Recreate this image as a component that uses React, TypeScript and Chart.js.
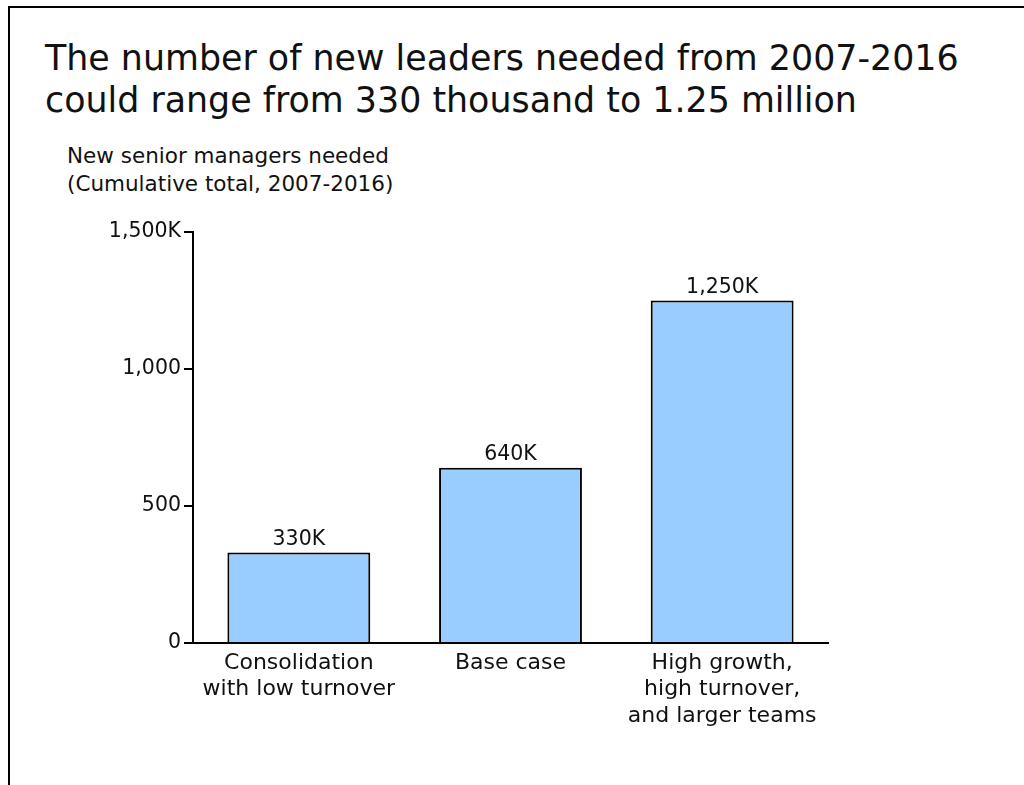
import React, { useEffect, useRef } from "react";
import { Chart, registerables } from "chart.js";

Chart.register(...registerables);

const titleLines = [
  "The number of new leaders needed from 2007-2016",
  "could range from 330 thousand to 1.25 million",
];
const subtitleLines = ["New senior managers needed", "(Cumulative total, 2007-2016)"];
const categories: string[][] = [
  ["Consolidation", "with low turnover"],
  ["Base case"],
  ["High growth,", "high turnover,", "and larger teams"],
];
const values = [330, 640, 1250];
const yTickValues = [0, 500, 1000, 1500];
const yTickLabels = ["0", "500", "1,000", "1,500K"];

const FONT = "'DejaVu Sans', Verdana, sans-serif";

const valueLabelPlugin = {
  id: "valueLabels",
  afterDatasetsDraw(chart: any) {
    const ctx = chart.ctx;
    const meta = chart.getDatasetMeta(0);
    ctx.save();
    ctx.font = `20.5px ${FONT}`;
    ctx.fillStyle = "#111";
    ctx.textAlign = "center";
    ctx.textBaseline = "alphabetic";
    meta.data.forEach((bar: any, i: number) => {
      const v = values[i];
      ctx.fillText(v.toLocaleString("en-US") + "K", bar.x, bar.y - 8);
    });
    ctx.restore();
  },
};

export default function App() {
  const ref = useRef<HTMLCanvasElement | null>(null);
  useEffect(() => {
    if (!ref.current) return;
    const chart = new Chart(ref.current, {
      type: "bar",
      data: {
        labels: categories,
        datasets: [
          {
            data: values,
            backgroundColor: "#99ccff",
            borderColor: "#000",
            borderWidth: 2,
            barPercentage: 0.675,
            categoryPercentage: 1,
          },
        ],
      },
      options: {
        responsive: false,
        animation: false,
        layout: { padding: { left: 0, right: 196, top: 232, bottom: 0 } },
        plugins: {
          legend: { display: false },
          tooltip: { enabled: false },
          title: { display: false },
        },
        scales: {
          x: {
            grid: { display: false, drawTicks: false },
            border: { display: true, color: "#000", width: 2 },
            ticks: {
              color: "#111",
              padding: 7,
              maxRotation: 0,
              autoSkip: false,
              font: { family: FONT, size: 22, lineHeight: 1.2 },
            },
            afterFit: (scale: any) => {
              scale.height = 142;
            },
          },
          y: {
            min: 0,
            max: 1500,
            afterBuildTicks: (scale: any) => {
              scale.ticks = yTickValues.map((v) => ({ value: v }));
            },
            grid: {
              display: true,
              drawOnChartArea: false,
              drawTicks: true,
              tickLength: 9,
              color: "#000",
              lineWidth: 2,
            },
            border: { display: true, color: "#000", width: 2 },
            ticks: {
              color: "#111",
              padding: 3,
              font: { family: FONT, size: 20.5 },
              callback: (value: any) => {
                const idx = yTickValues.indexOf(Number(value));
                return idx >= 0 ? yTickLabels[idx] : "";
              },
            },
            afterFit: (scale: any) => {
              scale.width = 193;
            },
          },
        },
      },
      plugins: [valueLabelPlugin],
    });
    return () => chart.destroy();
  }, []);

  return (
    <div
      style={{
        position: "fixed",
        left: 0,
        top: 0,
        width: 1024,
        height: 785,
        overflow: "hidden",
        background: "#fff",
        fontFamily: FONT,
        color: "#111",
      }}
    >
      <div
        style={{
          position: "absolute",
          left: 8,
          top: 6,
          width: 1016,
          height: 779,
          borderTop: "2px solid #000",
          borderLeft: "2px solid #000",
          boxSizing: "border-box",
        }}
      />
      <div
        style={{
          position: "absolute",
          left: 45,
          top: 37,
          fontSize: 34.85,
          lineHeight: "42px",
          whiteSpace: "nowrap",
        }}
      >
        {titleLines.map((t, i) => (
          <div key={i}>{t}</div>
        ))}
      </div>
      <div
        style={{
          position: "absolute",
          left: 67,
          top: 142,
          fontSize: 21.5,
          lineHeight: "28px",
          whiteSpace: "nowrap",
        }}
      >
        {subtitleLines.map((t, i) => (
          <div key={i}>{t}</div>
        ))}
      </div>
      <canvas
        ref={ref}
        width={1024}
        height={785}
        style={{ position: "absolute", left: 0, top: 0, width: 1024, height: 785 }}
      />
    </div>
  );
}
